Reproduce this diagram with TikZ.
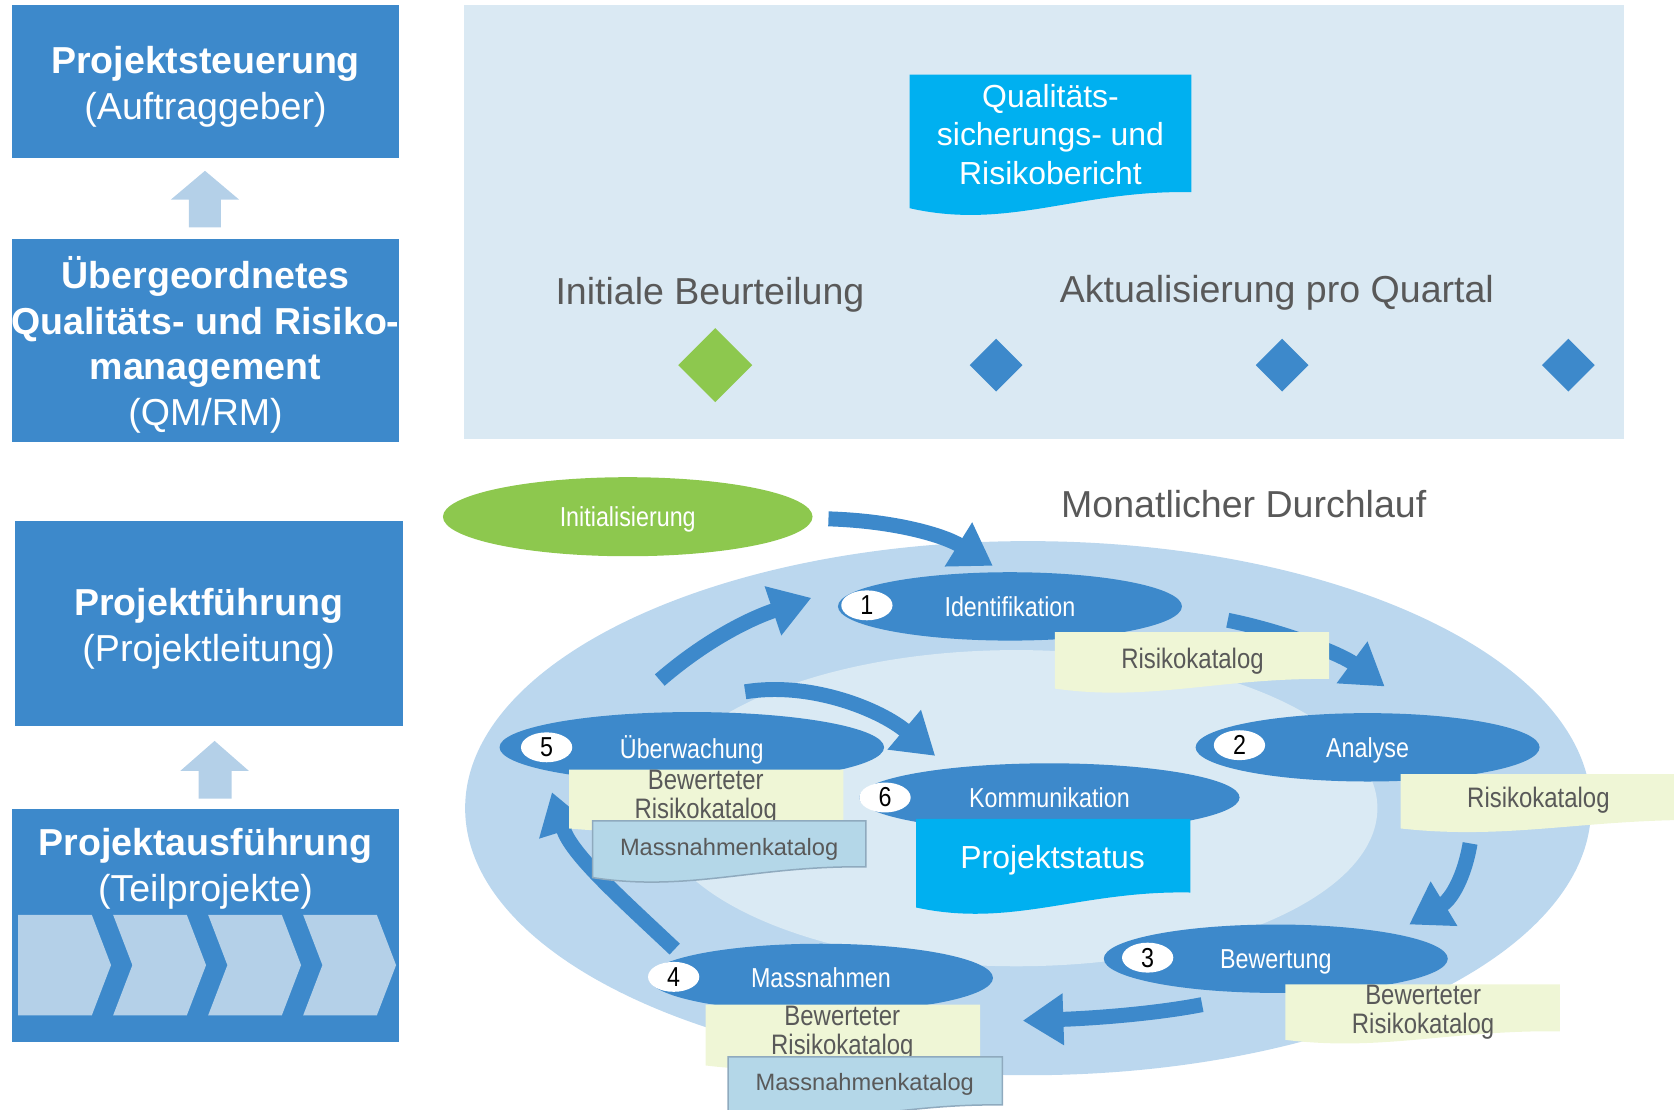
\documentclass[tikz,border=0pt]{standalone}
\usepackage{fontspec}
\setmainfont{Liberation Sans}
\newfontfamily\narrowfont[FakeStretch=0.85]{Liberation Sans}
\usetikzlibrary{arrows.meta}
\usetikzlibrary{shapes.geometric}

\definecolor{qmblue}{RGB}{61,137,203}
\definecolor{qmpale}{RGB}{180,208,232}
\definecolor{qmpanel}{RGB}{218,233,243}
\definecolor{qmring}{RGB}{187,215,238}
\definecolor{qmcore}{RGB}{218,234,244}
\definecolor{qmcyan}{RGB}{0,176,240}
\definecolor{qmgreen}{RGB}{141,200,78}
\definecolor{qmyellow}{RGB}{239,246,214}
\definecolor{qmsky}{RGB}{180,215,232}
\definecolor{qmframe}{RGB}{143,170,190}
\definecolor{qmgray}{RGB}{89,89,89}

\tikzset{
 level/.style={fill=qmblue, inner sep=0},
 leveltext/.style={text=white, inner sep=0, align=center, font=\fontsize{10}{12.2}\selectfont},
 upblock/.style={fill=qmpale},
 phase/.style={ellipse, fill=qmblue, text=white, inner sep=0, text depth=0pt, minimum width=3.22cm, minimum height=0.64cm, font=\narrowfont\fontsize{7.3}{8}\selectfont},
 badge/.style={ellipse, fill=white, text=black, inner sep=0, minimum width=0.48cm, minimum height=0.28cm, font=\narrowfont\fontsize{7.3}{8}\selectfont},
 cycflow/.style={line width=0.14cm, draw=qmblue, -{Triangle[width=0.46cm,length=0.38cm]}},
 doctext/.style={text=qmgray, align=center, inner sep=0, yshift=-0.03cm, font=\narrowfont\fontsize{7.5}{7.8}\selectfont},
 bigtext/.style={text=qmgray, inner sep=0, yshift=-0.03cm, font=\fontsize{10}{12}\selectfont},
}

\newcommand{\docshape}[6][]{%
 \path[#1] (#2,#3) -- (#4,#3) -- (#4,#5)
  .. controls ({#4-0.4*(#4-#2)},{#5-0.15*#6}) and ({#2+0.35*(#4-#2)},{#5+2.4*#6}) .. (#2,{#5+#6}) -- cycle;}

\begin{document}
\begin{tikzpicture}[x=0.01cm, y=-0.01cm]
\useasboundingbox (0,0) rectangle (1568,1039);

\node[level, minimum width=3.63cm, minimum height=1.43cm] (steuerung) at (192.5,76.5) {};
\node[leveltext] (steuerungtext) at ([yshift=-0.05cm]steuerung.center) {\textbf{Projektsteuerung}\\(Auftraggeber)};
\fill[upblock] (177,213) -- (177,187) -- (160,187) -- (192,160) -- (224,187) -- (207,187) -- (207,213) -- cycle;
\node[level, minimum width=3.63cm, minimum height=1.90cm] (qmrm) at (192.5,319) {};
\node[leveltext] (qmrmtext) at ([yshift=-0.04cm]qmrm.center) {\textbf{Übergeordnetes}\\\textbf{Qualitäts- und Risiko-}\\\textbf{management}\\(QM/RM)};
\node[level, minimum width=3.63cm, minimum height=1.92cm] (fuehrung) at (195.5,584) {};
\node[leveltext] (fuehrungtext) at ([yshift=-0.05cm]fuehrung.center) {\textbf{Projektführung}\\(Projektleitung)};
\fill[upblock] (186,748) -- (186,722) -- (169,722) -- (201,694) -- (233,722) -- (217,722) -- (217,748) -- cycle;
\node[level, minimum width=3.63cm, minimum height=2.18cm] (ausfuehrung) at (192.5,867) {};
\node[leveltext] (ausfuehrungtext) at (192.5,814) {\textbf{Projektausführung}\\(Teilprojekte)};
\foreach \x/\n in {17/0,106/18,195/18,284/18}
  \fill[upblock] (\x,857) -- ++(69,0) -- ++(18,47) -- ++(-18,47) -- (\x,951) -- ++(\n,-47) -- cycle;

\fill[qmpanel] (435,5) rectangle (1521,411);
\docshape[fill=qmcyan]{852}{70}{1116}{180}{15}
\node[text=white, align=center, inner sep=0, font=\fontsize{8.5}{10.2}\selectfont] (bericht) at (984,126) {Qualitäts-\\sicherungs- und\\Risikobericht};
\node[bigtext] (initial) at (665,273) {Initiale Beurteilung};
\node[bigtext] (quartal) at (1196,271) {Aktualisierung pro Quartal};
\node[diamond, fill=qmgreen, minimum size=0.70cm, inner sep=0] (m0) at (670,342) {};
\foreach \x [count=\i] in {933,1201,1469}
  \node[diamond, fill=qmblue, minimum size=0.5cm, inner sep=0] (m\i) at (\x,342) {};

\fill[qmring] (963,757) ellipse [x radius=5.27cm, y radius=2.5cm];
\fill[qmcore] (952,757) ellipse [x radius=3.38cm, y radius=1.48cm];
\node[text=qmgray, inner sep=0, font=\fontsize{10}{12}\selectfont] (monat) at (1165,472) {Monatlicher Durchlauf};
\node[phase, fill=qmgreen, minimum width=3.46cm, minimum height=0.74cm] (init) at (588,484) {Initialisierung};

\coordinate (i0) at (776,486); \coordinate (i1) at (930,530);
\coordinate (e1) at (1150,581); \coordinate (e2) at (1297,643);
\coordinate (e3) at (1377,790); \coordinate (e4) at (1320,866);
\coordinate (e5) at (1126,941); \coordinate (e6) at (958,956);
\coordinate (e7) at (632,889); \coordinate (e8) at (517,742);
\coordinate (e9) at (618,637); \coordinate (e10) at (760,560);
\coordinate (e11) at (698,648); \coordinate (e12) at (876,708);
\draw[cycflow] (i0) .. controls (840,488) and (885,502) .. (i1);
\draw[cycflow] (e1) .. controls (1200,591) and (1255,612) .. (e2);
\draw[cycflow] (e3) .. controls (1372,820) and (1360,842) .. (e4);
\draw[cycflow] (e5) .. controls (1080,950) and (1020,954) .. (e6);
\draw[cycflow] (e7) .. controls (580,840) and (535,800) .. (e8);
\draw[cycflow] (e9) .. controls (655,605) and (695,582) .. (e10);
\draw[cycflow] (e11) .. controls (760,638) and (825,665) .. (e12);

\node[phase] (ident) at (946,568) {Identifikation};
\node[phase] (analyse) at (1281,700) {Analyse};
\node[phase] (bewert) at (1195,898) {Bewertung};
\node[phase] (massn) at (769,916) {Massnahmen};
\node[phase, minimum width=3.6cm, minimum height=0.66cm] (ueberw) at (648,700) {Überwachung};
\node[phase, minimum width=3.56cm] (komm) at (983,747) {Kommunikation};
\foreach \n/\x/\y in {1/812/567, 2/1161/698, 3/1075/897, 4/631/915, 5/512/700, 6/829/747}
  \node[badge] (b\n) at (\x,\y) {\n};

\docshape[fill=qmyellow]{988}{592}{1245}{636}{9}
\node[doctext] (risk1) at (1117,616) {Risikokatalog};
\docshape[fill=qmyellow]{1312}{725}{1600}{768}{8}
\node[doctext] (risk2) at (1441,747) {Risikokatalog};
\docshape[fill=qmyellow]{1204}{922}{1461}{966}{8}
\node[doctext] (bew3) at (1333,945) {Bewerteter\\Risikokatalog};
\docshape[fill=qmyellow]{661}{941}{918}{990}{8}
\node[doctext] (bew4) at (789,965) {Bewerteter\\Risikokatalog};
\docshape[fill=qmyellow]{533}{721}{790}{770}{6}
\node[doctext] (bew5) at (661,744) {Bewerteter\\Risikokatalog};
\docshape[fill=qmsky, draw=qmframe]{555}{769}{811}{812}{10}
\node[doctext, font=\fontsize{6.3}{7}\selectfont] (mk5) at (683,793) {Massnahmenkatalog};
\docshape[fill=qmsky, draw=qmframe]{682}{990}{939}{1035}{10}
\node[doctext, font=\fontsize{6.3}{7}\selectfont] (mk4) at (810,1013) {Massnahmenkatalog};
\docshape[fill=qmcyan]{858}{767}{1115}{836}{14}
\node[text=white, inner sep=0, yshift=-0.03cm, font=\fontsize{8.5}{10}\selectfont] (status) at (986,803) {Projektstatus};
\end{tikzpicture}
\end{document}
